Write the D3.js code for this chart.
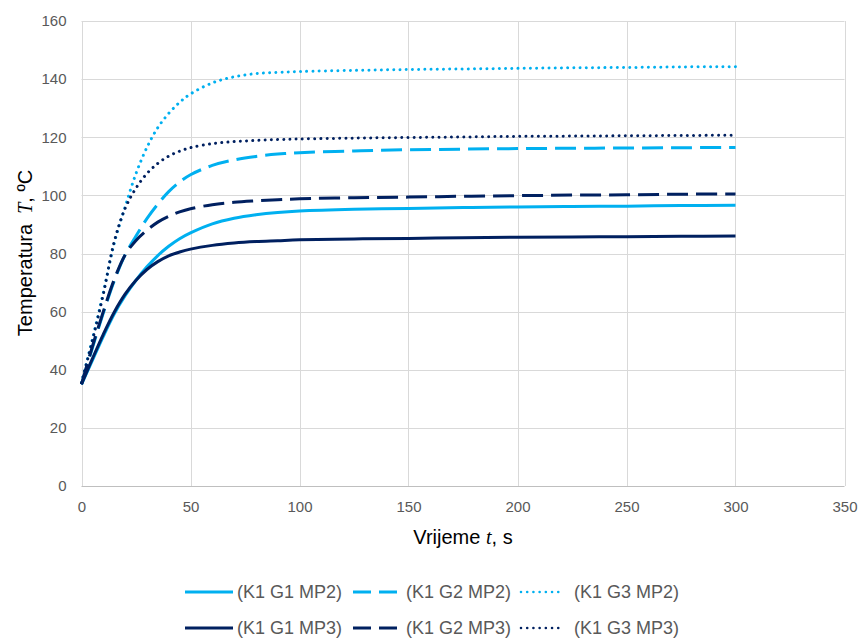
<!DOCTYPE html>
<html><head><meta charset="utf-8">
<script src="https://cdn.jsdelivr.net/npm/d3@7"></script>
<style>
html,body{margin:0;padding:0;background:#fff;}
svg{display:block;font-family:"Liberation Sans",Arial,sans-serif;}
</style></head>
<body><svg id="c" width="858" height="639"></svg>
<script>
const times = [0,5,10,15,20,25,30,35,40,45,50,60,70,80,90,100,125,150,175,200,225,250,275,300];
const g1mp2 = [35,43.2,51.5,59.2,65.5,70.8,75.4,79.3,82.5,85.1,87.1,90.2,92.1,93.3,94.1,94.6,95.2,95.5,95.8,96.0,96.2,96.3,96.5,96.6];
const g2mp2 = [35,47.5,59.5,70.5,79.5,86,92,97,101.3,104.6,107.1,110.3,112.2,113.4,114.2,114.7,115.3,115.7,115.9,116.1,116.2,116.3,116.4,116.5];
const g3mp2 = [35.5,50.5,66.5,83.5,96,107.5,116.5,123.3,128.2,132,134.9,138.7,140.8,141.9,142.3,142.6,143,143.3,143.5,143.7,143.9,144,144.2,144.3];
const g1mp3 = [35,43.8,52.2,59.8,66,70.8,74.5,77.2,79.2,80.5,81.5,82.8,83.6,84.1,84.4,84.7,85.0,85.2,85.4,85.6,85.7,85.8,85.9,86.0];
const g2mp3 = [35,48,60,71,79.5,84.5,88,90.8,92.8,94.3,95.4,96.8,97.6,98.1,98.5,98.8,99.2,99.4,99.7,99.9,100.1,100.2,100.4,100.5];
const g3mp3 = [35.5,50,66,84,95.5,102.5,107.5,111,113.5,115.2,116.4,117.8,118.5,118.9,119.2,119.4,119.7,119.9,120.1,120.3,120.4,120.5,120.6,120.7];
const seriesNames = ["(K1 G1 MP2)","(K1 G2 MP2)","(K1 G3 MP2)","(K1 G1 MP3)","(K1 G2 MP3)","(K1 G3 MP3)"];
const xTicks = [0,50,100,150,200,250,300,350];
const yTicks = [0,20,40,60,80,100,120,140,160];

const LIGHT = "#00B0F0", DARK = "#002060";
const styles = [
  {c:LIGHT, d:null}, {c:LIGHT, d:"21,8"}, {c:LIGHT, d:"0.01,6.2"},
  {c:DARK, d:null}, {c:DARK, d:"21,8"}, {c:DARK, d:"0.01,6.2"}
];
const allValues = [g1mp2,g2mp2,g3mp2,g1mp3,g2mp3,g3mp3];

const svg = d3.select("#c");
const x = d3.scaleLinear().domain([0,350]).range([81.5,844.5]);
const y = d3.scaleLinear().domain([0,160]).range([486,21]);

// gridlines
svg.append("g").selectAll("line").data(yTicks).join("line")
  .attr("x1",x(0)).attr("x2",x(350)).attr("y1",d=>Math.round(y(d))+0.5).attr("y2",d=>Math.round(y(d))+0.5)
  .attr("stroke",d=>d===0?"#BFBFBF":"#D9D9D9").attr("stroke-width",1);
svg.append("g").selectAll("line").data(xTicks).join("line")
  .attr("y1",y(0)).attr("y2",y(160)).attr("x1",d=>Math.round(x(d))+0.5).attr("x2",d=>Math.round(x(d))+0.5)
  .attr("stroke","#D9D9D9").attr("stroke-width",1);

// axes labels
const ax = svg.append("g").attr("transform",`translate(0,${y(0)})`)
  .call(d3.axisBottom(x).tickValues(xTicks).tickSize(0).tickPadding(15));
ax.select(".domain").remove();
ax.selectAll("text").attr("font-size",15).attr("fill","#595959").attr("font-family","Liberation Sans, Arial, sans-serif");
const ay = svg.append("g").attr("transform",`translate(${x(0)},0)`)
  .call(d3.axisLeft(y).tickValues(yTicks).tickSize(0).tickPadding(15));
ay.select(".domain").remove();
ay.selectAll("text").attr("font-size",15).attr("fill","#595959").attr("font-family","Liberation Sans, Arial, sans-serif");

// lines
const line = d3.line().x(d=>x(d[0])).y(d=>y(d[1])).curve(d3.curveCatmullRom.alpha(0.5));
allValues.forEach((vals,i)=>{
  const pts = times.map((t,j)=>[t,vals[j]]);
  const p = svg.append("path").datum(pts).attr("d",line)
    .attr("fill","none").attr("stroke",styles[i].c).attr("stroke-width",3);
  if(styles[i].d){ p.attr("stroke-dasharray",styles[i].d); }
  if(i%3===2){ p.attr("stroke-linecap","round"); }
});

// axis titles
const xt = svg.append("text").attr("x",463).attr("y",544).attr("text-anchor","middle")
  .attr("font-size",20).attr("fill","#000");
xt.append("tspan").text("Vrijeme ");
xt.append("tspan").attr("font-family","Liberation Serif, serif").attr("font-style","italic").text("t");
xt.append("tspan").text(", s");

const yt = svg.append("text").attr("transform","translate(32,253) rotate(-90)").attr("text-anchor","middle")
  .attr("font-size",20).attr("fill","#000");
yt.append("tspan").text("Temperatura");
yt.append("tspan").attr("dx",10).attr("font-family","Liberation Serif, serif").attr("font-style","italic").text("T");
yt.append("tspan").text(", ºC");

// legend
const legX = [[185,233,237],[353,402,406],[521,564,574]];
const legY = [592,628];
seriesNames.forEach((name,i)=>{
  const row = Math.floor(i/3), col = i%3;
  const g = svg.append("g");
  const ly = legY[row];
  const l = g.append("line").attr("x1",legX[col][0]).attr("x2",legX[col][1]).attr("y1",ly).attr("y2",ly)
    .attr("stroke",styles[i].c).attr("stroke-width",3);
  if(col===1){ l.attr("stroke-dasharray","18,8"); }
  if(col===2){ l.attr("stroke-dasharray","0.01,6.2").attr("stroke-linecap","round").attr("stroke-width",2.6); }
  g.append("text").attr("x",legX[col][2]).attr("y",ly).attr("dy","0.35em")
    .attr("font-size",18).attr("fill","#595959").text(name);
});
</script></body></html>
